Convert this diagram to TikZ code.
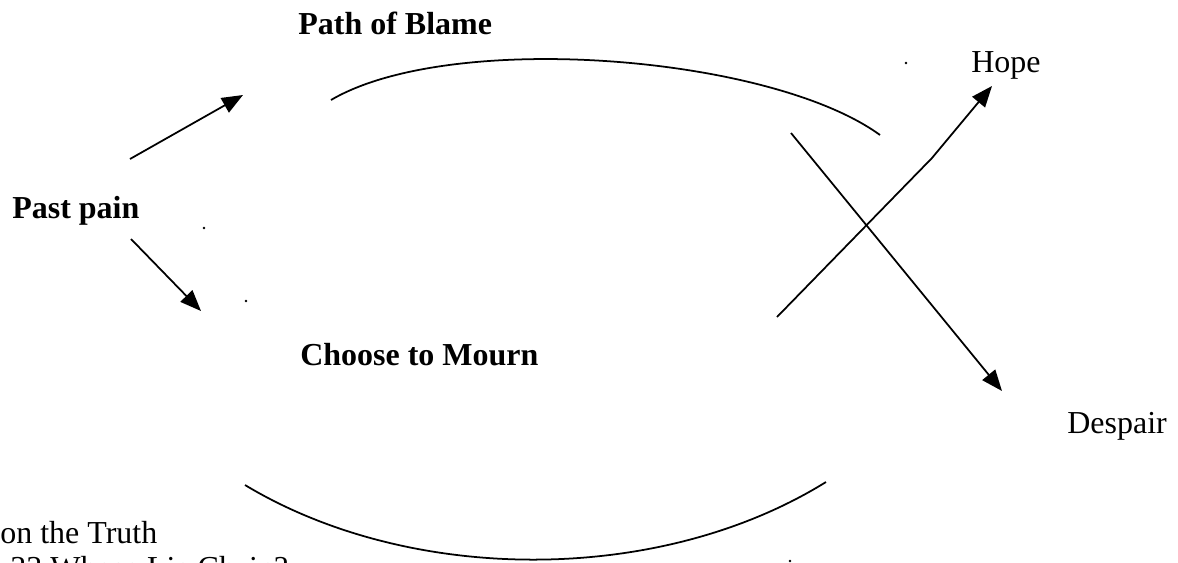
\documentclass[tikz,border=0pt]{standalone}
\usepackage{fontspec}
\setmainfont{Liberation Serif}
\usetikzlibrary{arrows.meta}

\begin{document}
\begin{tikzpicture}[x=0.02cm, y=-0.02cm,
    every node/.style={inner sep=0pt, anchor=base west, font=\fontsize{18.2}{22}\selectfont},
    bold/.style={font=\fontsize{18.2}{22}\selectfont\bfseries},
    link/.style={line width=1pt, -{Triangle[length=4.2mm, width=3.3mm]}},
    curve/.style={line width=1pt}]
    \useasboundingbox (0,0) rectangle (1178,562);
    \clip (0,0) rectangle (1178,562);

    \node[bold] (blame) at (298,34) {Path of Blame};
    \node[bold] (pain) at (12,218) {Past pain};
    \node[bold] (mourn) at (300,365) {Choose to Mourn};
    \node (hope) at (971,72) {Hope};
    \node (despair) at (1067,433) {Despair};
    \node (truth) at (0,543) {on the Truth};
    \node (chain) at (10,578) {33 Whose Lie Chain?};

    % arrows out of the past
    \coordinate (u0) at (130,159);
    \coordinate (u1) at (243,95);
    \coordinate (d0) at (131,239);
    \coordinate (d1) at (201,311);
    \draw[link] (u0) -- (u1);
    \draw[link] (d0) -- (d1);

    % the two arcs
    \coordinate (a0) at (331,100);
    \coordinate (a1) at (880,135);
    \coordinate (b0) at (245,485);
    \coordinate (b1) at (826,482);
    \draw[curve] (a0) .. controls (450,30) and (770,55) .. (a1);
    \draw[curve] (b0) .. controls (411,585) and (660,585) .. (b1);

    % the crossing
    \coordinate (h0) at (777,317);
    \coordinate (hk) at (932,158);
    \coordinate (h1) at (992,86);
    \coordinate (s0) at (791,133);
    \coordinate (s1) at (1002,391);
    \draw[link] (h0) -- (hk) -- (h1);
    \draw[link] (s0) -- (s1);

    % stray dots
    \foreach \p in {(204,228),(246,301),(906,63),(790,561)}
        \fill \p circle (1.4);
\end{tikzpicture}
\end{document}
